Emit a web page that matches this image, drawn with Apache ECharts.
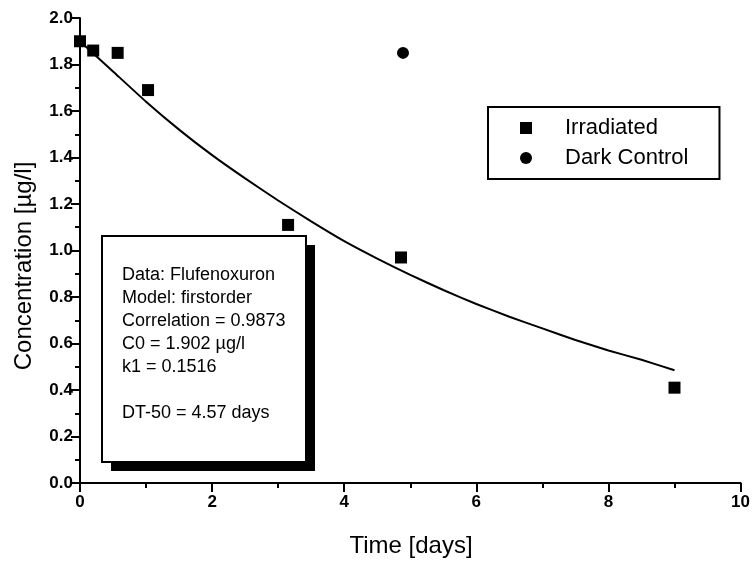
<!DOCTYPE html>
<html>
<head>
<meta charset="utf-8">
<script src="https://cdn.jsdelivr.net/npm/echarts@6/dist/echarts.min.js"></script>
<style>
  html, body { margin: 0; padding: 0; background: #fff; }
  #chart { width: 753px; height: 563px; }
</style>
</head>
<body>
<div id="chart"></div>
<script>
const irradiatedX = [0, 0.2, 0.57, 1.03, 3.15, 4.86, 9.0]
const irradiatedY = [1.90, 1.86, 1.85, 1.69, 1.11, 0.97, 0.41]
const darkX = [4.89]
const darkY = [1.85]

// fitted first-order curve
const fitX = [0, 0.5, 1, 1.5, 2, 2.5, 3, 3.5, 4, 4.5, 5, 5.5, 6, 6.5, 7, 7.5, 8, 8.5, 9]
const fitY = [1.90, 1.77, 1.64, 1.52, 1.41, 1.31, 1.215, 1.125, 1.04, 0.965, 0.895, 0.83, 0.77, 0.715, 0.665, 0.615, 0.57, 0.53, 0.485]

const boxLines = [
  'Data: Flufenoxuron',
  'Model: firstorder',
  'Correlation = 0.9873',
  'C0 = 1.902 µg/l',
  'k1 = 0.1516',
  '',
  'DT-50 = 4.57 days'
]

const zip = (xs, ys) => xs.map((x, i) => [x, ys[i]])
const font = '"Liberation Sans", Arial, sans-serif'

const chart = echarts.init(document.getElementById('chart'))

const axisCommon = {
  axisLine: { show: true, onZero: false, lineStyle: { color: '#000', width: 2 } },
  axisTick: { show: true, inside: false, length: 9, lineStyle: { color: '#000', width: 2 } },
  minorTick: { show: true, splitNumber: 2, length: 5, lineStyle: { color: '#000', width: 2 } },
  splitLine: { show: false },
  axisLabel: { color: '#000', fontFamily: font, fontSize: 17, fontWeight: 'bold' }
}

const option = {
  backgroundColor: '#fff',
  animation: false,
  grid: { left: 80, right: 10, top: 18, bottom: 80 },
  xAxis: {
    type: 'value',
    min: 0, max: 10, interval: 2,
    ...axisCommon,
    axisLabel: { ...axisCommon.axisLabel, margin: 11 }
  },
  yAxis: {
    type: 'value',
    min: 0, max: 2, interval: 0.2,
    ...axisCommon,
    axisLabel: { ...axisCommon.axisLabel, margin: 7, formatter: v => v.toFixed(1) }
  },
  legend: {
    left: 488, top: 107,
    orient: 'vertical',
    data: [
      { name: 'Irradiated', icon: 'rect' },
      { name: 'Dark Control', icon: 'circle' }
    ],
    itemWidth: 12, itemHeight: 12, itemGap: 8,
    padding: [10, 31, 10, 32],
    borderColor: '#000', borderWidth: 2,
    textStyle: { color: '#000', fontFamily: font, fontSize: 22, padding: [0, 0, 0, 28] }
  },
  graphic: [
    {
      type: 'group',
      left: 101, top: 235,
      children: [
        { type: 'rect', shape: { x: 9, y: 9, width: 204, height: 226 }, style: { fill: '#000' } },
        { type: 'rect', shape: { x: 0, y: 0, width: 204, height: 226 }, style: { fill: '#fff', stroke: '#000', lineWidth: 2 } },
        {
          type: 'text', x: 20, y: 28,
          style: { text: boxLines.join('\n'), fill: '#000', font: '18px ' + font, lineHeight: 23 }
        }
      ]
    },
    {
      type: 'text', x: 24, y: 266, rotation: Math.PI / 2,
      style: { text: 'Concentration [µg/l]', fill: '#000', font: '24px ' + font, align: 'center', verticalAlign: 'middle' }
    },
    {
      type: 'text', x: 411, y: 546,
      style: { text: 'Time [days]', fill: '#000', font: '24px ' + font, align: 'center', verticalAlign: 'middle' }
    }
  ],
  series: [
    {
      name: 'fit',
      type: 'line',
      data: zip(fitX, fitY),
      smooth: 0.15,
      showSymbol: false,
      lineStyle: { color: '#000', width: 2 },
      z: 2
    },
    {
      name: 'Irradiated',
      type: 'scatter',
      symbol: 'rect',
      symbolSize: 12,
      data: zip(irradiatedX, irradiatedY),
      itemStyle: { color: '#000', opacity: 1 },
      z: 3
    },
    {
      name: 'Dark Control',
      type: 'scatter',
      symbol: 'circle',
      symbolSize: 12,
      data: zip(darkX, darkY),
      itemStyle: { color: '#000', opacity: 1 },
      z: 3
    }
  ]
}

chart.setOption(option)
</script>
</body>
</html>
